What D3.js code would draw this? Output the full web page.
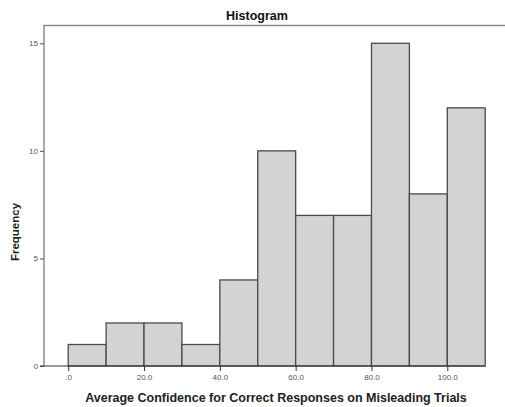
<!DOCTYPE html>
<html><head><meta charset="utf-8">
<script src="https://cdn.jsdelivr.net/npm/d3@7"></script>
<style>body{margin:0;background:#fff}svg{display:block}</style>
</head><body>
<script>
const binStarts = [0,10,20,30,40,50,60,70,80,90,100];
const binWidth = 10;
const frequencies = [1,2,2,1,4,10,7,7,15,8,12];
const xTicks = [0,20,40,60,80,100];
const xTickLabels = [".0","20.0","40.0","60.0","80.0","100.0"];
const yTicks = [0,5,10,15];

const W = 505, H = 407;
const svg = d3.select("body").append("svg").attr("width", W).attr("height", H);
const font = "Liberation Sans, Arial, sans-serif";

const x = d3.scaleLinear().domain([0,110]).range([68.2,485.2]);
const y = d3.scaleLinear().domain([0,15]).range([366,43.3]);

// frame top
svg.append("line").attr("x1",44).attr("x2",506).attr("y1",25.5).attr("y2",25.5)
  .attr("stroke","#8a8a8a").attr("stroke-width",1.3);
svg.append("line").attr("x1",44).attr("x2",44).attr("y1",25).attr("y2",366)
  .attr("stroke","#7a7a7a").attr("stroke-width",1.3);

// bars
svg.selectAll("rect.bar").data(frequencies).enter().append("rect")
  .attr("x",(d,i)=>x(binStarts[i]))
  .attr("width",(d,i)=>x(binStarts[i]+binWidth)-x(binStarts[i]))
  .attr("y",d=>y(d))
  .attr("height",d=>y(0)-y(d))
  .attr("fill","#d2d3d5").attr("stroke","#4a4a4a").attr("stroke-width",1.3);

// y axis
const yAxis = d3.axisLeft(y).tickValues(yTicks).tickSize(4).tickPadding(2).tickFormat(d3.format("d"));
const gy = svg.append("g").attr("transform","translate(44,0)").call(yAxis);
gy.select(".domain").remove();
gy.selectAll("line").attr("stroke","#555");
gy.selectAll("text").attr("font-family",font).attr("font-size",8).attr("fill","#555");

// x axis
const xAxis = d3.axisBottom(x).tickValues(xTicks).tickSize(5).tickPadding(3)
  .tickFormat((d,i)=>xTickLabels[i]);
const gx = svg.append("g").attr("transform","translate(0,366)").call(xAxis);
gx.select(".domain").remove();
gx.selectAll("line").attr("stroke","#333");
gx.selectAll("text").attr("font-family",font).attr("font-size",8).attr("fill","#555");
svg.append("line").attr("x1",40).attr("x2",485.2).attr("y1",366).attr("y2",366)
  .attr("stroke","#333").attr("stroke-width",1.2);

// titles
svg.append("text").attr("x",257).attr("y",19.5).attr("text-anchor","middle")
  .attr("font-family",font).attr("font-weight","bold").attr("font-size",12.5).attr("fill","#111")
  .text("Histogram");
svg.append("text").attr("x",276).attr("y",401.5).attr("text-anchor","middle")
  .attr("font-family",font).attr("font-weight","bold").attr("font-size",12.5).attr("fill","#222")
  .text("Average Confidence for Correct Responses on Misleading Trials");
svg.append("text").attr("transform","translate(19,232) rotate(-90)").attr("text-anchor","middle")
  .attr("font-family",font).attr("font-weight","bold").attr("font-size",11.5).attr("fill","#222")
  .text("Frequency");
</script>
</body></html>
